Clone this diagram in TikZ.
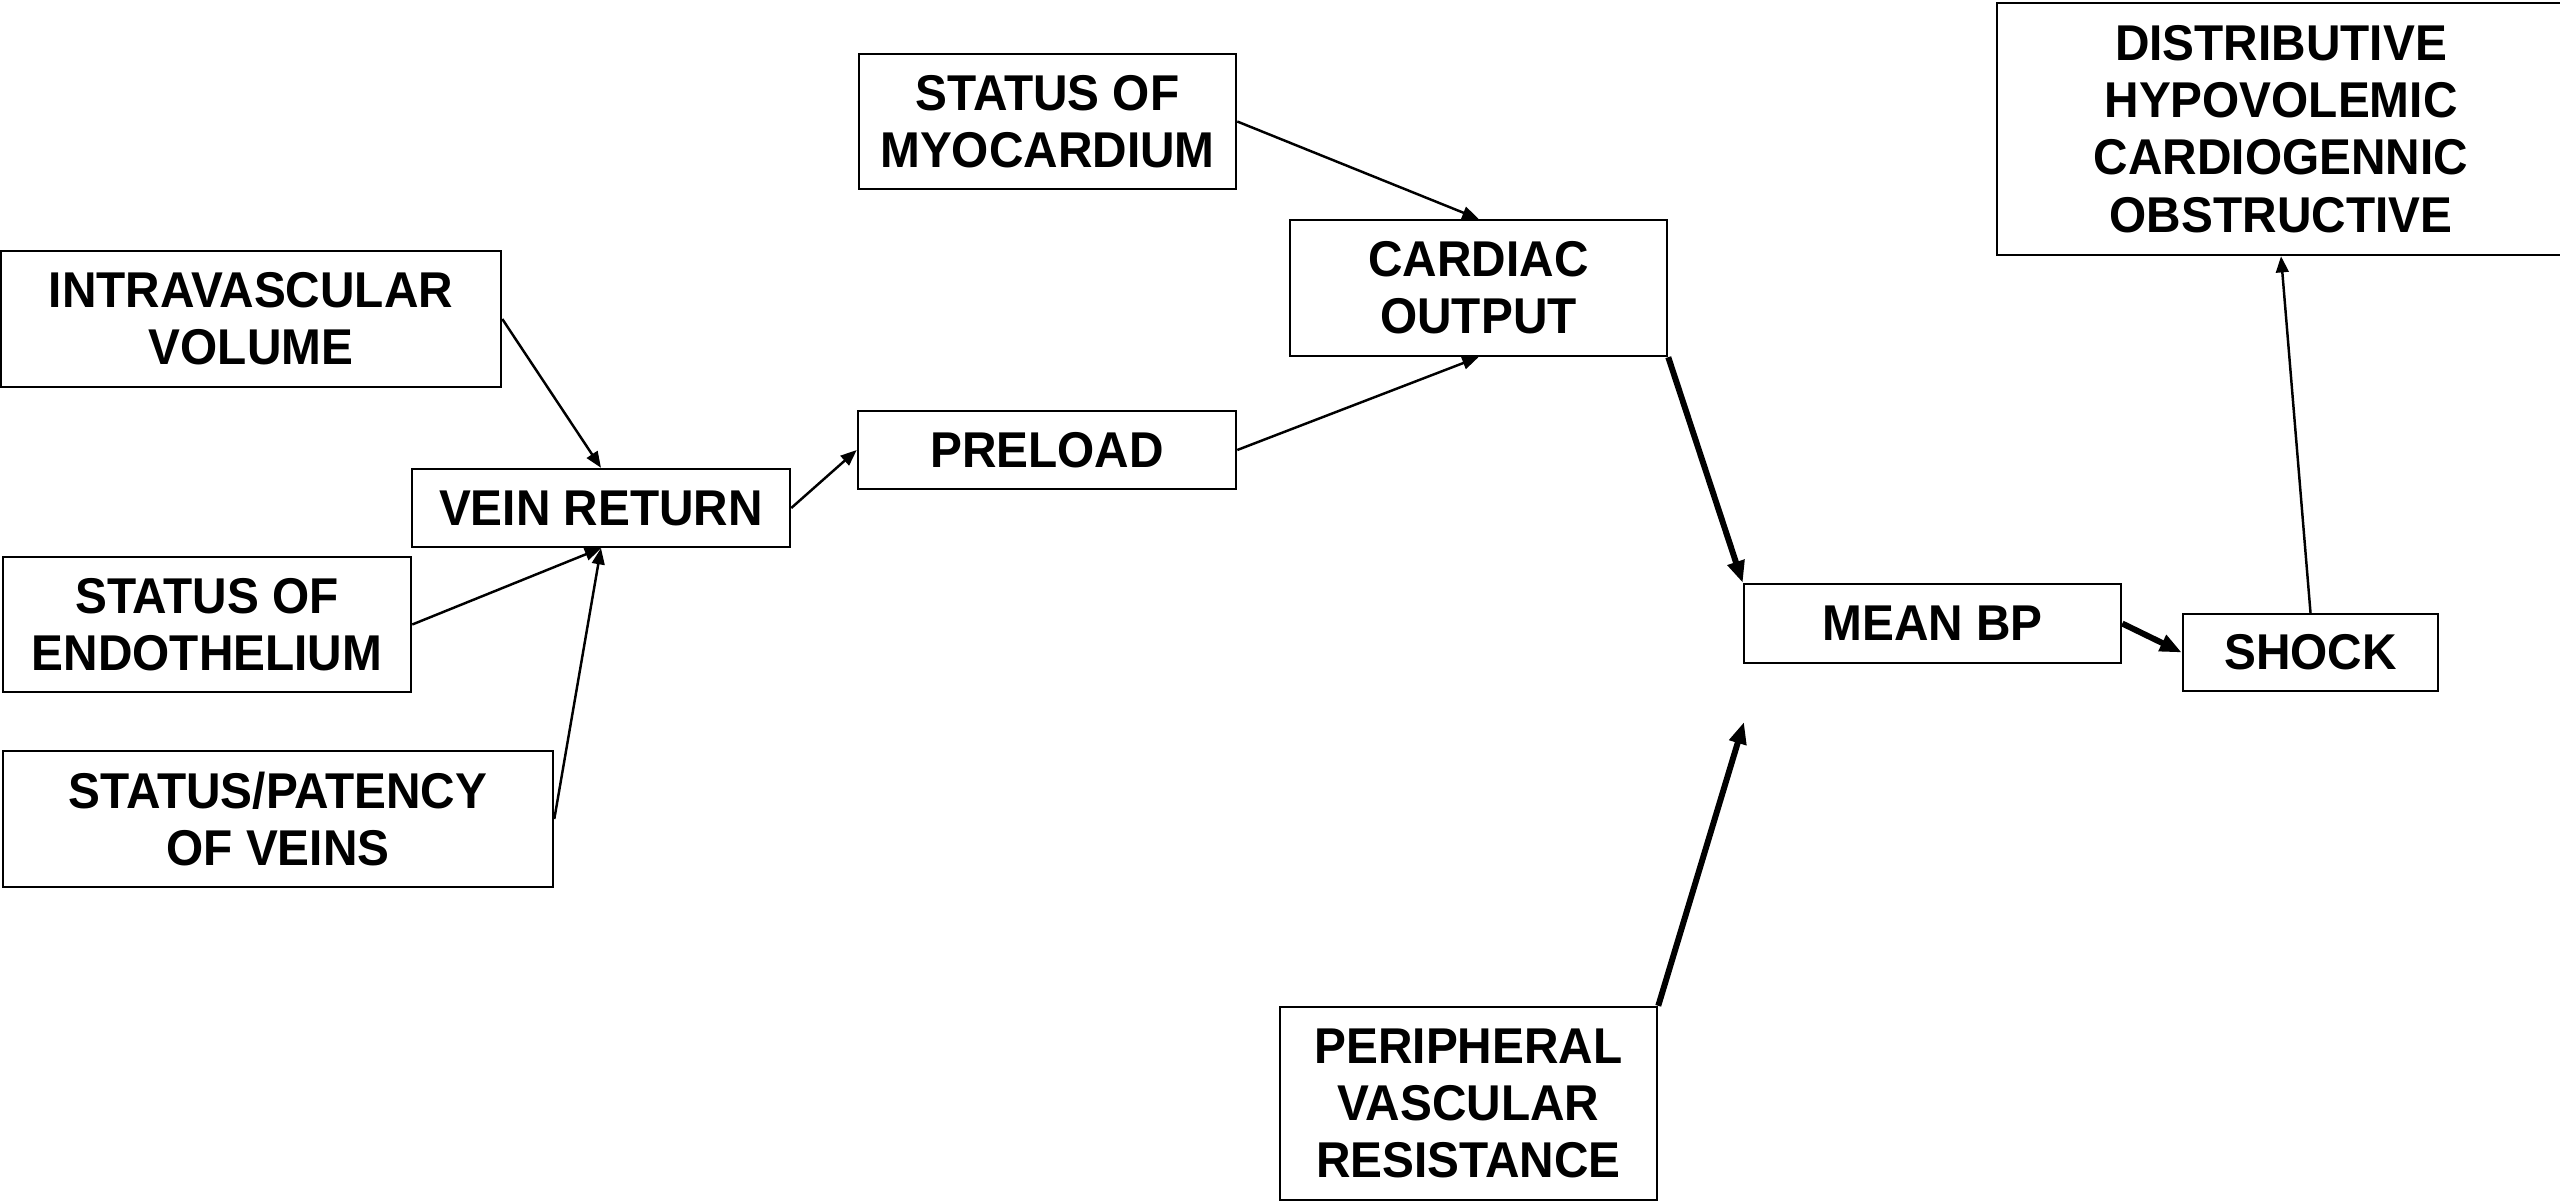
\documentclass[tikz,border=0pt]{standalone}
\usepackage{fontspec}
\setmainfont{Liberation Sans}[FakeStretch=0.95]
\usetikzlibrary{arrows.meta}
\begin{document}
\begin{tikzpicture}[x=0.01cm,y=-0.01cm,
  box/.style={draw=black, line width=0.65pt, align=center, inner sep=0pt,
    font=\fontsize{14.3}{16.3}\selectfont\bfseries},
  thinarrow/.style={line width=0.7pt, -{Triangle[length=4.6pt,width=3.6pt]}},
  heavyarrow/.style={line width=1.7pt, -{Triangle[length=6.2pt,width=4.8pt]}}]
\useasboundingbox (0,0) rectangle (2560,1203);

% boxes
\node[box, minimum width=3.77cm, minimum height=1.35cm] (myo) at (1047.5,121.5) {STATUS OF\\MYOCARDIUM};
\node[box, minimum width=3.77cm, minimum height=1.36cm] (co) at (1478.5,288) {CARDIAC\\OUTPUT};
\node[box, minimum width=5.00cm, minimum height=1.36cm] (iv) at (251,319) {INTRAVASCULAR\\VOLUME};
\node[box, minimum width=3.78cm, minimum height=0.78cm] (vr) at (601,508) {VEIN RETURN};
\node[box, minimum width=3.78cm, minimum height=0.78cm] (pre) at (1047,450) {PRELOAD};
\node[box, minimum width=4.08cm, minimum height=1.35cm] (endo) at (207,624.5) {STATUS OF\\ENDOTHELIUM};
\node[box, minimum width=5.50cm, minimum height=1.36cm] (pat) at (278,819) {STATUS/PATENCY\\OF VEINS};
\node[box, minimum width=3.77cm, minimum height=0.79cm] (mbp) at (1932.5,623.5) {MEAN BP};
\node[box, minimum width=2.55cm, minimum height=0.77cm] (shock) at (2310.5,652.5) {SHOCK};
\node[box, minimum width=5.68cm, minimum height=2.52cm] (dist) at (2281,129) {DISTRIBUTIVE\\HYPOVOLEMIC\\CARDIOGENNIC\\OBSTRUCTIVE};
\node[box, minimum width=3.77cm, minimum height=1.93cm] (pvr) at (1468.5,1103.5) {PERIPHERAL\\VASCULAR\\RESISTANCE};

\coordinate (pvrend) at (1744,722);

% connectors
\draw[thinarrow] (iv.east) -- (vr.north);
\draw[thinarrow] (endo.east) -- (vr.south);
\draw[thinarrow] (pat.east) -- (vr.south);
\draw[thinarrow] (vr.east) -- (pre.west);
\draw[thinarrow] (pre.east) -- (co.south);
\draw[thinarrow] (myo.east) -- (co.north);
\draw[heavyarrow] (co.south east) -- (mbp.north west);
\draw[heavyarrow] (mbp.east) -- (shock.west);
\draw[thinarrow] (shock.north) -- (dist.south);
\draw[heavyarrow] (pvr.north east) -- (pvrend);
\end{tikzpicture}
\end{document}
